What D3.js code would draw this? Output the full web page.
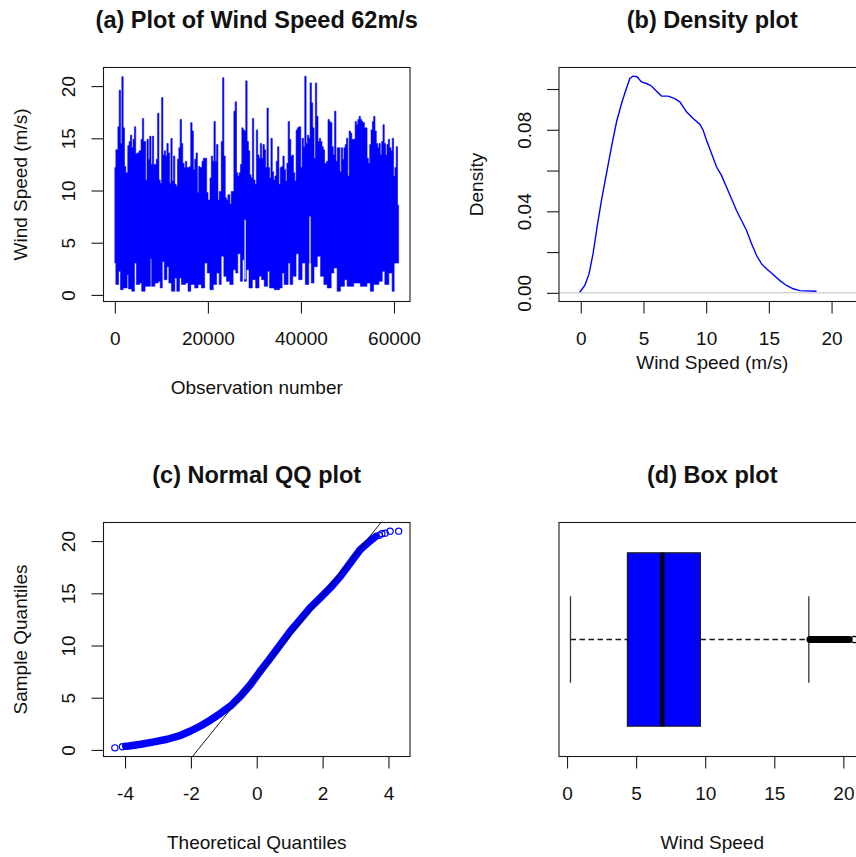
<!DOCTYPE html>
<html><head><meta charset="utf-8">
<script src="https://cdn.jsdelivr.net/npm/d3@7"></script>
<style>
body{margin:0;background:#fff;}
svg{display:block;}
text{font-family:"Liberation Sans",Arial,sans-serif;fill:#111;}
</style>
</head><body>
<svg id="chart" width="856" height="857"></svg>
<script>
// ---------------- DATA ----------------
// (a) time series: number of observations, data range, per-column upper / lower envelope [obs, m/s]
const tsN = 61000;
const tsRange = [0.2, 20.95];
const tsUpper = [[0,12.2],[220,13.9],[650,16.1],[930,19.6],[1220,14.5],[1500,20.9],[1790,16.0],[2070,12.3],[2360,11.7],[2780,14.3],[3070,14.7],[3350,15.3],[3640,14.1],[3920,14.9],[4210,16.1],[4490,13.5],[4780,13.6],[5200,13.8],[5630,14.9],[5920,16.9],[6200,14.7],[6630,11.0],[6910,14.9],[7200,13.0],[7480,15.2],[7770,12.5],[8050,15.2],[8340,12.5],[8910,13.0],[9190,17.4],[9480,11.0],[9760,10.7],[10050,18.9],[10330,13.4],[10620,13.8],[10900,13.3],[11190,14.5],[11470,13.6],[11760,10.7],[12040,15.0],[12320,10.9],[12610,13.3],[12890,10.6],[13180,10.4],[13460,13.0],[13750,14.1],[14030,16.8],[14320,14.5],[14600,12.6],[14890,12.2],[15170,12.8],[15460,12.2],[16030,12.3],[16310,16.5],[16600,15.7],[16880,12.0],[17170,13.0],[17450,13.6],[17740,9.8],[18020,12.3],[18310,12.2],[18730,12.8],[19020,13.1],
[19740,9.8],[20020,9.1],[20450,11.2],[20730,13.3],[21020,12.8],[21300,16.6],[21590,12.8],[21870,14.4],[22160,9.1],[22440,9.9],[22870,14.7],[23160,20.8],[23440,13.3],[23730,9.3],[24010,9.1],[24300,9.6],[24720,8.7],[25010,9.9],[25580,17.6],[25860,18.5],[26150,11.7],[26430,11.4],[26720,11.7],[27000,12.5],[27290,16.0],[27570,15.8],[27860,15.7],[28140,20.5],[28430,14.7],[28710,13.8],[29000,11.5],[29280,11.2],[29570,16.9],[29850,11.0],[30130,10.6],[30420,15.8],[30700,13.4],[30990,13.1],[31270,14.5],[31560,13.1],[31840,14.4],[32130,13.9],[32410,12.2],[32700,17.9],[32980,12.2],[33270,11.2],[33550,15.0],[33840,11.8],[34120,11.0],[34410,11.4],[34690,12.8],[34980,14.2],[35260,10.6],[35550,12.2],[35830,12.3],[36120,13.3],[36400,12.0],[36680,10.9],[36970,12.6],[37250,16.6],[37540,14.9],[37820,13.3],[38110,13.4],[38390,11.7],[38680,10.9],[38960,15.8],[39250,16.0],[39530,16.1],
[39970,12.2],[40250,15.0],[40540,14.2],[40820,20.95],[41110,14.5],[41390,15.3],[41680,15.0],[41960,20.3],[42250,18.4],[42530,16.0],[42820,13.1],[43100,20.3],[43390,17.1],[43670,14.7],[43960,15.0],[44240,14.7],[44530,14.2],[44810,13.9],[45090,12.6],[45520,12.8],[45810,16.8],[46090,16.6],[46380,16.5],[46660,14.2],[46950,13.4],[47230,17.6],[47520,12.8],[47800,14.1],[48370,11.8],[48660,14.1],[48940,13.0],[49230,14.1],[49510,14.4],[49790,15.0],[50080,11.4],[50360,15.7],[50650,15.5],[50930,14.9],[51650,16.6],[51930,16.3],[52220,16.8],[52500,17.1],[52780,16.8],[53070,16.6],[53350,16.5],[53640,16.0],[54210,13.1],[54490,12.6],[54780,14.4],[55060,15.8],[55350,16.6],[55630,17.1],[55920,15.7],[56200,14.5],[56490,14.1],[56770,14.5],[57060,13.4],[57340,14.7],[57630,16.3],[57910,14.5],[58200,13.4],[58480,14.4],[58770,14.9],[59050,14.1],[59340,13.8],[59620,15.0],[59910,11.4],[60190,12.2],[60470,14.2],[60760,8.6]];
const tsLower = [[0,3.05],[220,1.0],[790,2.26],[1220,0.5],[1790,0.67],[2640,1.94],[2930,0.57],[3640,0.35],[4210,3.05],[4630,1.0],[5350,1.14],[5770,0.35],[6490,0.82],[7630,3.5],[7910,0.82],[8620,1.14],[9330,1.3],[9760,0.67],[10190,3.2],[10620,1.46],[11190,2.7],[11610,1.14],[12180,0.35],[12890,1.62],[13320,0.35],[13890,1.62],[14320,1.0],[15170,1.14],[15740,0.35],[16310,1.0],[17170,0.67],[17880,1.0],[18590,0.67],[19300,3.05],[19870,2.1],[20440,0.5],[21150,1.0],[21870,2.1],[22430,1.0],[22860,3.7],[23430,1.78],[24000,1.3],[24710,1.0],[25420,2.42],[25990,2.1],[26420,3.94],[26990,1.3],[27420,3.37],[27850,1.3],[28270,2.42],[28840,0.67],[29550,1.46],[30270,0.67],[30980,1.78],[31550,1.46],[32120,0.82],[32830,2.26],[33260,0.67],[34250,0.5],[35390,0.67],[35960,2.1],[36390,1.0],[37240,3.05],[37670,1.0],[38240,1.78],[38950,3.94],[39520,1.46],[40240,3.05],[40950,1.0],[41660,3.05],[42230,1.14],[42800,2.7],[43510,3.7],[44220,1.78],[44930,1.0],[45650,0.67],[46500,2.1],[47070,2.58],[47780,0.35],[48490,0.82],[49350,1.46],[49920,0.82],[51340,1.14],[52770,0.82],[54190,1.14],[54900,0.35],[55610,1.0],[56750,1.3],[57470,2.26],[58030,1.0],[58890,2.1],[59600,0.35],[60030,3.05]];
// columns where the series skips a range of values [obs, from, to]
const tsGaps = [[28000,1.5,7.2],[41950,3.0,7.5]];
const tsXTicks = [0, 20000, 40000, 60000];
const speedTicks = [0, 5, 10, 15, 20];

// (b) density estimate [wind speed, density]
const densRange = [-0.83, 21.8];
const densPoints = [[-0.08,0.0003],[0.32,0.0036],[0.66,0.0093],[0.98,0.0192],[1.30,0.0322],[1.65,0.0454],[2.05,0.0585],[2.45,0.0716],[2.85,0.0838],[3.25,0.0929],[3.59,0.0994],[3.91,0.1052],[4.17,0.1063],[4.49,0.1060],[4.84,0.1035],[5.24,0.1027],[5.64,0.1015],[6.04,0.0989],[6.44,0.0966],[6.97,0.0965],[7.50,0.0953],[7.90,0.0937],[8.43,0.0888],[8.96,0.0855],[9.49,0.0827],[9.76,0.0798],[10.03,0.0748],[10.43,0.0683],[10.83,0.0617],[11.22,0.0576],[11.62,0.0519],[12.02,0.0462],[12.42,0.0404],[12.82,0.0355],[13.22,0.0306],[13.62,0.0241],[14.02,0.0183],[14.42,0.0142],[14.81,0.0118],[15.34,0.0090],[15.88,0.0060],[16.41,0.0036],[16.94,0.0020],[17.47,0.0011],[18.80,0.0008]];
const densXTicks = [0, 5, 10, 15, 20];
const densYTicks = [0, 0.02, 0.04, 0.06, 0.08, 0.10];
const densYLabels = ["0.00", "", "0.04", "", "0.08", ""];

// (c) normal QQ: theoretical range, dense sample-quantile path and isolated tail points [theoretical, sample]
const qqTheoMax = 4.31;
const qqPath = [[-3.98,0.35],[-3.88,0.38],[-3.52,0.54],[-3.12,0.77],[-2.72,1.02],[-2.31,1.40],[-2.01,1.81],[-1.71,2.29],[-1.40,2.87],[-1.10,3.51],[-0.80,4.20],[-0.49,5.16],[-0.19,6.27],[0.11,7.55],[0.42,8.83],[0.72,10.10],[1.02,11.37],[1.32,12.48],[1.62,13.6],[1.93,14.56],[2.23,15.51],[2.54,16.62],[2.84,17.9],[3.14,19.17],[3.45,20.03],[3.62,20.45]];
const qqSingles = [[-4.31,0.2],[-4.08,0.3],[3.72,20.55],[3.80,20.7],[3.90,20.76],[4.05,20.95],[4.31,20.95]];
const qqXTicks = [-4, -2, 0, 2, 4];

// (d) box plot statistics
const boxRange = [0.24, 20.78];
const boxLowerWhisker = 0.25;
const boxQ1 = 4.37;
const boxMedian = 6.9;
const boxQ3 = 9.65;
const boxUpperWhisker = 17.5;
const boxOutlierRun = [17.58, 20.42];
const boxOutlierSingles = [20.78];
const boxXTicks = [0, 5, 10, 15, 20];

// ---------------- LAYOUT ----------------
const svg = d3.select("#chart");
const W = 306.5, H = 234;
const ink = "#1a1a1a";
const blue = "#0000ff";
const fs = 19, fsTitle = 23.5;
const ext = (a, b) => { const d = (b - a) * 0.04; return [a - d, b + d]; };

let clipId = 0;
function panel(L, T, title, xlab, ylab, xlabOffset) {
  const g = svg.append("g");
  const id = "clip" + (clipId++);
  svg.append("defs").append("clipPath").attr("id", id)
    .append("rect").attr("x", L).attr("y", T).attr("width", W).attr("height", H);
  const plot = g.append("g").attr("clip-path", `url(#${id})`);
  g.append("text").attr("x", L + W / 2).attr("y", T - 39.2)
    .attr("text-anchor", "middle").attr("font-weight", "bold").attr("font-size", fsTitle).text(title);
  g.append("text").attr("x", L + W / 2).attr("y", T + H + xlabOffset)
    .attr("text-anchor", "middle").attr("font-size", fs).text(xlab);
  if (ylab) {
    g.append("text").attr("transform", `translate(${L - 76.5},${T + H / 2}) rotate(-90)`)
      .attr("text-anchor", "middle").attr("font-size", fs).text(ylab);
  }
  return { g, plot, L, T };
}
function frame(p) {
  p.g.append("rect").attr("x", p.L).attr("y", p.T).attr("width", W).attr("height", H)
    .attr("fill", "none").attr("stroke", ink).attr("stroke-width", 1.1);
}
function xAxis(p, scale, ticks, fmt) {
  const a = p.g.append("g").attr("transform", `translate(0,${p.T + H})`)
    .call(d3.axisBottom(scale).tickValues(ticks).tickSize(12).tickFormat(fmt || (d => String(d))));
  a.select(".domain").remove();
  a.selectAll("line").attr("stroke", ink).attr("stroke-width", 1.1);
  a.selectAll("text").attr("y", 43.3).attr("dy", null).attr("font-size", fs)
    .attr("fill", "#111").style("font-family", '"Liberation Sans",Arial,sans-serif');
}
function yAxis(p, scale, ticks, fmt) {
  const a = p.g.append("g").attr("transform", `translate(${p.L},0)`)
    .call(d3.axisLeft(scale).tickValues(ticks).tickSize(12).tickFormat(fmt || (d => String(d))));
  a.select(".domain").remove();
  a.selectAll("line").attr("stroke", ink).attr("stroke-width", 1.1);
  a.selectAll("text").attr("x", 0).attr("y", -28.5).attr("dy", null)
    .attr("transform", "rotate(-90)").attr("text-anchor", "middle").attr("font-size", fs)
    .attr("fill", "#111").style("font-family", '"Liberation Sans",Arial,sans-serif');
}

// ---------------- (a) Time series ----------------
{
  const p = panel(103.5, 67.5, "(a) Plot of Wind Speed 62m/s", "Observation number", "Wind Speed (m/s)", 92);
  const x = d3.scaleLinear().domain(ext(1, tsN)).range([p.L, p.L + W]);
  const y = d3.scaleLinear().domain(ext(tsRange[0], tsRange[1])).range([p.T + H, p.T]);
  const breaks = Array.from(new Set([...tsUpper.map(d => d[0]), ...tsLower.map(d => d[0]), tsN])).sort((a, b) => a - b);
  const stepVal = (arr, o) => { let v = arr[0][1]; for (const d of arr) { if (d[0] <= o) v = d[1]; else break; } return v; };
  const band = breaks.map(o => ({ o, hi: stepVal(tsUpper, o), lo: stepVal(tsLower, o) }));
  p.plot.append("path").datum(band)
    .attr("d", d3.area().x(d => x(d.o)).y0(d => y(d.lo)).y1(d => y(d.hi)).curve(d3.curveStepAfter))
    .attr("fill", blue).attr("stroke", blue).attr("stroke-width", 0.6);
  p.plot.selectAll(".gap").data(tsGaps).enter().append("line")
    .attr("x1", d => x(d[0])).attr("x2", d => x(d[0]))
    .attr("y1", d => y(d[1])).attr("y2", d => y(d[2]))
    .attr("stroke", "#fff").attr("stroke-width", 1.2);
  frame(p);
  xAxis(p, x, tsXTicks);
  yAxis(p, y, speedTicks);
}

// ---------------- (b) Density ----------------
{
  const p = panel(559, 67.5, "(b) Density plot", "Wind Speed (m/s)", "Density", 67.5);
  const x = d3.scaleLinear().domain(ext(densRange[0], densRange[1])).range([p.L, p.L + W]);
  const y = d3.scaleLinear().domain(ext(0, d3.max(densPoints, d => d[1]))).range([p.T + H, p.T]);
  p.plot.append("path").datum(densPoints)
    .attr("d", d3.line().x(d => x(d[0])).y(d => y(d[1])))
    .attr("fill", "none").attr("stroke", blue).attr("stroke-width", 1.4);
  p.plot.append("line").attr("x1", p.L).attr("x2", p.L + W).attr("y1", y(0)).attr("y2", y(0))
    .attr("stroke", "#bebebe").attr("stroke-width", 1);
  frame(p);
  xAxis(p, x, densXTicks);
  yAxis(p, y, densYTicks, (d, i) => densYLabels[i]);
}

// ---------------- (c) Normal QQ ----------------
{
  const p = panel(103.5, 522.5, "(c) Normal QQ plot", "Theoretical Quantiles", "Sample Quantiles", 92);
  const x = d3.scaleLinear().domain(ext(-qqTheoMax, qqTheoMax)).range([p.L, p.L + W]);
  const y = d3.scaleLinear().domain(ext(tsRange[0], tsRange[1])).range([p.T + H, p.T]);
  p.plot.append("path").datum(qqPath)
    .attr("d", d3.line().x(d => x(d[0])).y(d => y(d[1])))
    .attr("fill", "none").attr("stroke", blue).attr("stroke-width", 7.5)
    .attr("stroke-linecap", "round").attr("stroke-linejoin", "round");
  p.plot.selectAll(".pt").data(qqSingles).enter().append("circle")
    .attr("cx", d => x(d[0])).attr("cy", d => y(d[1])).attr("r", 3.1)
    .attr("fill", "none").attr("stroke", blue).attr("stroke-width", 1.2);
  // reference line through the quartiles
  const slope = (boxQ3 - boxQ1) / (2 * 0.6744898);
  const icpt = boxQ1 + 0.6744898 * slope;
  const [t0, t1] = x.domain();
  p.plot.append("line").attr("x1", x(t0)).attr("y1", y(icpt + slope * t0))
    .attr("x2", x(t1)).attr("y2", y(icpt + slope * t1))
    .attr("stroke", "#000").attr("stroke-width", 0.9);
  frame(p);
  xAxis(p, x, qqXTicks);
  yAxis(p, y, speedTicks);
}

// ---------------- (d) Box plot ----------------
{
  const p = panel(559, 522.5, "(d) Box plot", "Wind Speed", null, 92);
  const x = d3.scaleLinear().domain(ext(boxRange[0], boxRange[1])).range([p.L, p.L + W]);
  const y = d3.scaleLinear().domain(ext(0.5, 1.5)).range([p.T + H, p.T]);
  const c = y(1);
  p.plot.append("line").attr("x1", x(boxLowerWhisker)).attr("x2", x(boxQ1)).attr("y1", c).attr("y2", c)
    .attr("stroke", ink).attr("stroke-width", 1.4).attr("stroke-dasharray", "5.5,3.5");
  p.plot.append("line").attr("x1", x(boxQ3)).attr("x2", x(boxUpperWhisker)).attr("y1", c).attr("y2", c)
    .attr("stroke", ink).attr("stroke-width", 1.4).attr("stroke-dasharray", "5.5,3.5");
  [boxLowerWhisker, boxUpperWhisker].forEach(v => {
    p.plot.append("line").attr("x1", x(v)).attr("x2", x(v)).attr("y1", y(0.8)).attr("y2", y(1.2))
      .attr("stroke", "#333").attr("stroke-width", 1.3);
  });
  p.plot.append("rect").attr("x", x(boxQ1)).attr("y", y(1.4))
    .attr("width", x(boxQ3) - x(boxQ1)).attr("height", y(0.6) - y(1.4))
    .attr("fill", blue).attr("stroke", ink).attr("stroke-width", 1.2);
  p.plot.append("line").attr("x1", x(boxMedian)).attr("x2", x(boxMedian)).attr("y1", y(1.4)).attr("y2", y(0.6))
    .attr("stroke", "#000").attr("stroke-width", 4);
  p.plot.append("line").attr("x1", x(boxOutlierRun[0])).attr("x2", x(boxOutlierRun[1])).attr("y1", c).attr("y2", c)
    .attr("stroke", "#000").attr("stroke-width", 7).attr("stroke-linecap", "round");
  p.plot.selectAll(".out").data(boxOutlierSingles).enter().append("circle")
    .attr("cx", d => x(d)).attr("cy", c).attr("r", 3.1)
    .attr("fill", "none").attr("stroke", "#000").attr("stroke-width", 1.2);
  frame(p);
  xAxis(p, x, boxXTicks);
}
</script>
</body></html>
